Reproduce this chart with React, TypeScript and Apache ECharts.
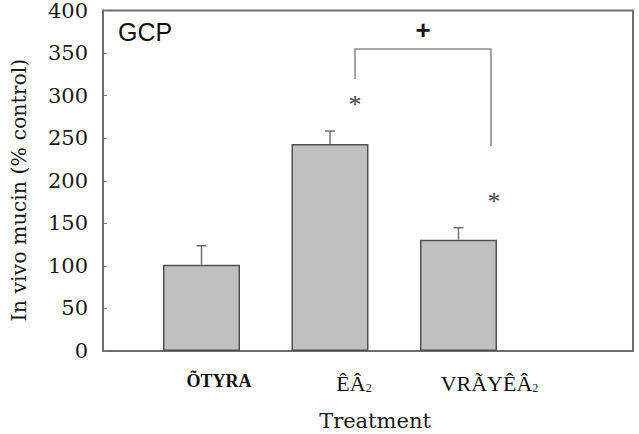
import React, { useEffect, useRef } from "react";
import * as echarts from "echarts";

// Treatment groups, mean in vivo mucin (% control) and SEM
const categories = ["ÕTYRA", "ÊÂ", "VRÃYÊÂ"];
const means = [100, 240, 129];
const errors = [22, 15, 14];
const yTicks = { min: 0, max: 400, interval: 50 };

const SERIF = "DejaVu Serif";

export default function App() {
  const ref = useRef<HTMLDivElement>(null);

  useEffect(() => {
    if (!ref.current) return;
    const chart = echarts.init(ref.current, null, { renderer: "svg" });

    const errData = categories.map((_, i) => [i, means[i], errors[i]]);

    const labelRich = {
      c0: { fontFamily: "Liberation Serif", fontWeight: "bold", fontSize: 18, color: "#111", padding: [0, 0, 0, 35] },
      c1: { fontFamily: "Liberation Serif", fontSize: 22, color: "#111", padding: [0, 0, 0, 48] },
      c2: { fontFamily: "Liberation Serif", fontSize: 22, color: "#111", padding: [0, 0, 0, 62] },
      s: { fontFamily: "Liberation Serif", fontSize: 12, color: "#111", padding: [10, 0, 0, 0] },
    };

    const star = { fontFamily: "Liberation Serif", fontSize: 26, fill: "#444", align: "center", verticalAlign: "middle" };

    chart.setOption({
      animation: false,
      backgroundColor: "#ffffff",
      grid: [
        // framed plotting area
        { left: 103, right: 6, top: 6, bottom: 83, show: true, borderColor: "#6e6e6e", borderWidth: 2, backgroundColor: "transparent" },
        // bar placement
        { left: 137.25, right: 116.25, top: 6, bottom: 83 },
      ],
      xAxis: [
        { gridIndex: 0, type: "value", min: 0, max: 1, show: false },
        {
          gridIndex: 1,
          type: "category",
          data: categories,
          axisLine: { show: false },
          axisTick: { show: true, inside: true, length: 4, alignWithLabel: true, lineStyle: { color: "#777", width: 1 } },
          axisLabel: {
            margin: 21,
            rich: labelRich,
            formatter: (v: string, i: number) => (i === 0 ? `{c0|${v}}` : `{c${i}|${v}}{s|2}`),
          },
        },
      ],
      yAxis: [
        {
          gridIndex: 0,
          type: "value",
          min: yTicks.min,
          max: yTicks.max,
          interval: yTicks.interval,
          axisLine: { show: true, lineStyle: { color: "#6e6e6e", width: 2 } },
          axisTick: { show: true, inside: true, length: 4, lineStyle: { color: "#777", width: 1 } },
          axisLabel: { margin: 15, fontFamily: SERIF, fontSize: 21, color: "#1a1a1a" },
          splitLine: { show: false },
        },
        { gridIndex: 1, type: "value", min: yTicks.min, max: yTicks.max, show: false },
      ],
      series: [
        {
          type: "bar",
          xAxisIndex: 1,
          yAxisIndex: 1,
          data: means,
          barWidth: 77,
          itemStyle: { color: "#c0c0c0", borderColor: "#505050", borderWidth: 1.5 },
          z: 2,
        },
        {
          type: "custom",
          xAxisIndex: 1,
          yAxisIndex: 1,
          data: errData,
          encode: { x: 0, y: 1 },
          z: 3,
          renderItem: (params: any, api: any) => {
            const idx = api.value(0);
            const m = api.value(1);
            const e = api.value(2);
            const base = api.coord([idx, m]);
            const top = api.coord([idx, m + e]);
            const style = { stroke: "#707070", lineWidth: 1.5 };
            return {
              type: "group",
              children: [
                { type: "line", shape: { x1: base[0], y1: base[1], x2: top[0], y2: top[1] }, style },
                { type: "line", shape: { x1: top[0] - 5, y1: top[1], x2: top[0] + 5, y2: top[1] }, style },
              ],
            };
          },
        },
      ],
      graphic: [
        { type: "text", left: 118, top: 19, style: { text: "GCP", fontFamily: "Liberation Sans", fontSize: 25, fill: "#111" } },
        { type: "text", x: 355, y: 104, style: { text: "*", ...star } },
        { type: "text", x: 494, y: 201, style: { text: "*", ...star } },
        { type: "text", x: 423, y: 30, style: { text: "+", fontFamily: "Liberation Sans", fontWeight: "bold", fontSize: 26, fill: "#111", align: "center", verticalAlign: "middle" } },
        {
          type: "polyline",
          shape: { points: [[355, 79], [355, 49], [491, 49], [491, 146]] },
          style: { stroke: "#8a8a8a", lineWidth: 1.5, fill: "none" },
        },
        { type: "text", x: 375, y: 421, style: { text: "Treatment", fontFamily: SERIF, fontSize: 21, fill: "#1a1a1a", align: "center", verticalAlign: "middle" } },
        {
          type: "text",
          x: 19,
          y: 190,
          rotation: Math.PI / 2,
          style: { text: "In vivo mucin (% control)", fontFamily: SERIF, fontSize: 20.5, fill: "#1a1a1a", align: "center", verticalAlign: "middle" },
        },
      ],
    });

    return () => chart.dispose();
  }, []);

  return <div ref={ref} style={{ width: 639, height: 434, position: "fixed", left: 0, top: 0 }} />;
}
